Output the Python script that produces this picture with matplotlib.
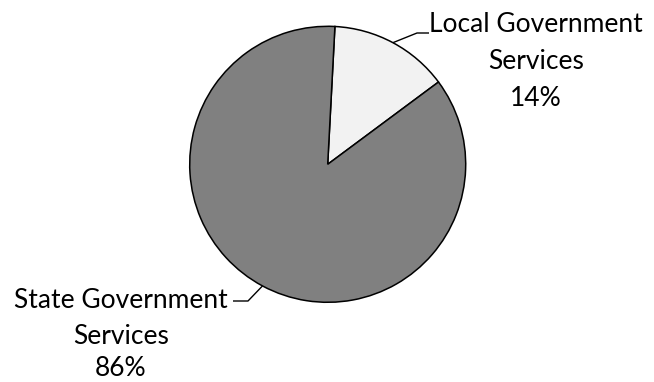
import numpy as np
import matplotlib
matplotlib.use("Agg")
import matplotlib.pyplot as plt

# data
labels = [["Local Government", "Services"], ["State Government", "Services"]]
shares = [14, 86]
colors = ["#F2F2F2", "#808080"]

W, H = 654, 382
CX, CY, R = 327.7, H - 164.3, 138.0
START = 87.0

plt.rcParams["font.family"] = ["Lato", "DejaVu Sans"]

fig = plt.figure(figsize=(W / 100, H / 100), dpi=100)
ax = fig.add_axes([0, 0, 1, 1])

wedges, _ = ax.pie(shares, colors=colors, startangle=START, counterclock=False,
                   center=(CX, CY), radius=R, frame=True,
                   wedgeprops=dict(edgecolor="black", linewidth=1.1))
ax.set_xlim(0, W)
ax.set_ylim(0, H)
ax.set_aspect("equal")
ax.axis("off")

fs = 19
# label layout in px from top-left: text center x, line centers y, leader elbow and end
label_pos = [
    dict(tx=536, ys=[25, 61.5, 98], elbow=(417, 33), end=(429, 33)),
    dict(tx=121, ys=[300.5, 336, 368.5], elbow=(248, 301), end=(233, 301)),
]
for w, lab, s, p in zip(wedges, labels, shares, label_pos):
    mid = np.deg2rad((w.theta1 + w.theta2) / 2)
    ex, ey = CX + R * np.cos(mid), CY + R * np.sin(mid)
    xs = [ex, p["elbow"][0], p["end"][0]]
    ys = [ey, H - p["elbow"][1], H - p["end"][1]]
    ax.plot(xs, ys, color="black", lw=1.0, solid_capstyle="butt")
    for line, y in zip(lab + [f"{s}%"], p["ys"]):
        ax.text(p["tx"], H - y, line, ha="center", va="center",
                fontsize=fs, color="black")

fig.savefig("out.png", dpi=100, facecolor="white")
